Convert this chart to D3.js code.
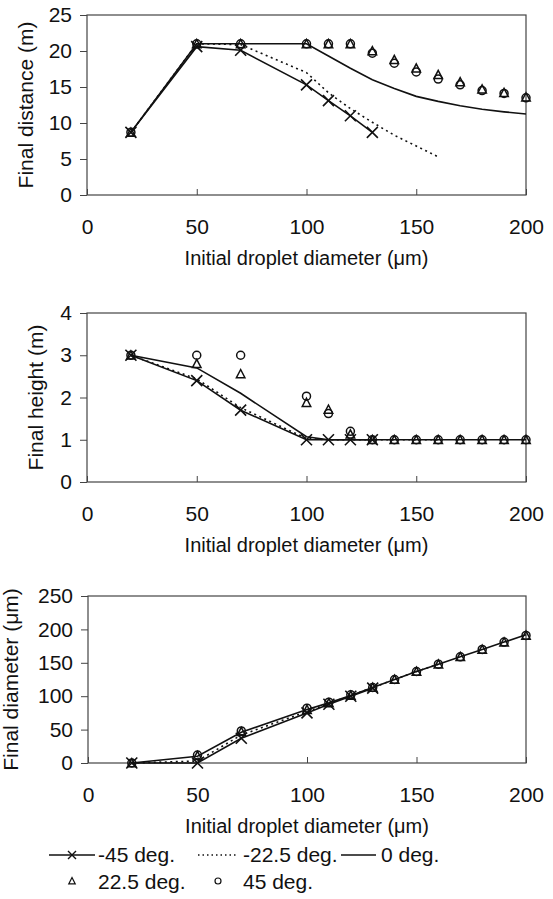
<!DOCTYPE html>
<html>
<head>
<meta charset="utf-8">
<script src="https://cdn.jsdelivr.net/npm/d3@7"></script>
<style>
  body { margin: 0; background: #fff; }
  text { font-family: "Liberation Sans", Arial, Helvetica, sans-serif; fill: #111; }
</style>
</head>
<body>
<div id="chart"></div>
<script>
// x values (initial droplet diameter, um)
const diameters = [20, 50, 70, 100, 110, 120, 130, 140, 150, 160, 170, 180, 190, 200];
const xTicks = [0, 50, 100, 150, 200];

// Final distance (m)
const distM45 = [8.7, 20.6, 20.1, 15.3, 13.1, 11.0, 8.7];
const distM22 = [8.7, 21.0, 20.9, 17.0, 14.2, 12.0, 10.1, 8.3, 6.8, 5.3];
const dist0 = [8.7, 21.0, 21.0, 21.0, 19.3, 17.6, 16.0, 14.8, 13.7, 13.0, 12.4, 11.9, 11.55, 11.25];
const dist225 = [8.7, 21.0, 21.0, 21.0, 21.0, 21.0, 20.0, 18.8, 17.6, 16.7, 15.7, 14.7, 14.2, 13.6];
const dist45 = [8.7, 21.0, 21.0, 21.0, 21.0, 21.0, 19.7, 18.3, 17.1, 16.1, 15.3, 14.5, 14.1, 13.5];
const distTicks = [0, 5, 10, 15, 20, 25];

// Final height (m)
const heightM45 = [3.0, 2.4, 1.7, 1.0, 1.0, 1.0, 1.0];
const heightM22 = [3.0, 2.44, 1.76, 1.03, 1.0, 1.0, 1.0, 1.0, 1.0, 1.0];
const height0 = [3.0, 2.7, 2.1, 1.07, 1.0, 1.0, 1.0, 1.0, 1.0, 1.0, 1.0, 1.0, 1.0, 1.0];
const height225 = [3.0, 2.8, 2.56, 1.88, 1.72, 1.13, 1.0, 1.0, 1.0, 1.0, 1.0, 1.0, 1.0, 1.0];
const height45 = [3.0, 3.0, 3.0, 2.03, 1.62, 1.2, 1.0, 1.0, 1.0, 1.0, 1.0, 1.0, 1.0, 1.0];
const heightTicks = [0, 1, 2, 3, 4];

// Final diameter (um)
const diamM45 = [0, 0, 37, 75, 88, 100, 112];
const diamM22 = [0, 3, 42, 77, 89, 101, 113, 125, 137, 148];
const diam0 = [0, 10, 46, 80, 90, 101, 113, 125, 137, 148, 159, 170, 181, 192];
const diam225 = [0, 11, 47, 80, 90, 101, 113, 125, 137, 148, 159, 170, 181, 191];
const diam45 = [0, 12, 48, 82, 91, 102, 113, 125, 137, 148, 159, 170, 181, 191];
const diamTicks = [0, 50, 100, 150, 200, 250];

const xTitle = "Initial droplet diameter (\u03BCm)";
const legendLabels = ["-45 deg.", "-22.5 deg.", "0 deg.", "22.5 deg.", "45 deg."];

const width = 553, height = 899;

const svg = d3.select("#chart")
    .append("svg")
    .attr("width", width)
    .attr("height", height);

// Pair x values with y values
function pts(ys) {
    return ys.map((v, i) => ({ x: diameters[i], y: v }));
}

// Path for an "x" marker
function crossPath(cx, cy, r) {
    return `M${cx - r},${cy - r}L${cx + r},${cy + r}M${cx - r},${cy + r}L${cx + r},${cy - r}`;
}
function trianglePath(cx, cy, s) {
    const h = s * 0.9;
    return `M${cx},${cy - h / 2 - 0.5}L${cx + s / 2},${cy + h / 2}L${cx - s / 2},${cy + h / 2}Z`;
}

const panels = [
    { top: 15, bottom: 195, left: 87, right: 526, yMax: 25, yTicks: distTicks, label: "Final distance (m)", labelX: 33,
      m45: distM45, m22: distM22, z0: dist0, p225: dist225, p45: dist45 },
    { top: 313, bottom: 482, left: 87, right: 526, yMax: 4, yTicks: heightTicks, label: "Final height (m)", labelX: 43,
      m45: heightM45, m22: heightM22, z0: height0, p225: height225, p45: height45 },
    { top: 596, bottom: 763, left: 88, right: 526, yMax: 250, yTicks: diamTicks, label: "Final diameter (\u03BCm)", labelX: 18,
      m45: diamM45, m22: diamM22, z0: diam0, p225: diam225, p45: diam45 }
];

panels.forEach(function (p) {
    const x = d3.scaleLinear().domain([0, 200]).range([p.left, p.right]);
    const y = d3.scaleLinear().domain([0, p.yMax]).range([p.bottom, p.top]);
    const g = svg.append("g");

    // frame
    g.append("rect")
        .attr("x", p.left)
        .attr("y", p.top)
        .attr("width", p.right - p.left)
        .attr("height", p.bottom - p.top)
        .attr("fill", "none")
        .attr("stroke", "#444")
        .attr("stroke-width", 1.2);

    // y axis
    const yAxis = g.append("g")
        .attr("transform", `translate(${p.left},0)`)
        .call(d3.axisLeft(y).tickValues(p.yTicks).tickFormat(d3.format("d")).tickSize(7).tickPadding(8));
    yAxis.select(".domain").remove();
    yAxis.selectAll("line").attr("stroke", "#444");
    yAxis.selectAll("text")
        .attr("font-size", 21)
        .attr("fill", "#111")
        .attr("font-family", "Liberation Sans, Arial, sans-serif")
        .attr("x", -15);

    // x axis (ticks pointing in)
    const xAxis = g.append("g")
        .attr("transform", `translate(0,${p.bottom})`)
        .call(d3.axisBottom(x).tickValues(xTicks).tickFormat(d3.format("d")).tickSize(-6));
    xAxis.select(".domain").remove();
    xAxis.selectAll("line").attr("stroke", "#444");
    xAxis.selectAll("text")
        .attr("font-size", 21)
        .attr("fill", "#111")
        .attr("font-family", "Liberation Sans, Arial, sans-serif")
        .attr("y", 39)
        .attr("dy", null);

    // axis titles
    g.append("text")
        .attr("x", (p.left + p.right) / 2)
        .attr("y", p.bottom + 70)
        .attr("text-anchor", "middle")
        .attr("font-size", 20)
        .text(xTitle);

    g.append("text")
        .attr("transform", `translate(${p.labelX},${(p.top + p.bottom) / 2}) rotate(-90)`)
        .attr("text-anchor", "middle")
        .attr("font-size", 21)
        .text(p.label);

    const line = d3.line()
        .x(d => x(d.x))
        .y(d => y(d.y));

    // -22.5 deg (dotted)
    g.append("path")
        .datum(pts(p.m22))
        .attr("fill", "none")
        .attr("stroke", "#111")
        .attr("stroke-width", 1.6)
        .attr("stroke-dasharray", "2,3.5")
        .attr("d", line);

    // 0 deg (solid)
    g.append("path")
        .datum(pts(p.z0))
        .attr("fill", "none")
        .attr("stroke", "#111")
        .attr("stroke-width", 1.6)
        .attr("d", line);

    // -45 deg (solid with x markers)
    g.append("path")
        .datum(pts(p.m45))
        .attr("fill", "none")
        .attr("stroke", "#111")
        .attr("stroke-width", 1.6)
        .attr("d", line);

    g.selectAll(".xmark")
        .data(pts(p.m45))
        .enter()
        .append("path")
        .attr("d", d => crossPath(x(d.x), y(d.y), 5.5))
        .attr("stroke", "#111")
        .attr("stroke-width", 1.6)
        .attr("fill", "none");

    // 22.5 deg (triangles)
    g.selectAll(".tri")
        .data(pts(p.p225))
        .enter()
        .append("path")
        .attr("d", d => trianglePath(x(d.x), y(d.y), 8.5))
        .attr("fill", "none")
        .attr("stroke", "#111")
        .attr("stroke-width", 1.5);

    // 45 deg (circles)
    g.selectAll(".circ")
        .data(pts(p.p45))
        .enter()
        .append("circle")
        .attr("cx", d => x(d.x))
        .attr("cy", d => y(d.y))
        .attr("r", 4)
        .attr("fill", "none")
        .attr("stroke", "#111")
        .attr("stroke-width", 1.5);
});

// Legend
const legend = svg.append("g");
const row1 = 855, row2 = 882;

// -45 deg
legend.append("line")
    .attr("x1", 49).attr("x2", 95).attr("y1", row1).attr("y2", row1)
    .attr("stroke", "#111").attr("stroke-width", 1.6);
legend.append("path")
    .attr("d", crossPath(72, row1, 4))
    .attr("stroke", "#111").attr("stroke-width", 1.4);
legend.append("text").attr("x", 98).attr("y", row1 + 7).attr("font-size", 21).text(legendLabels[0]);

// -22.5 deg
legend.append("line")
    .attr("x1", 198).attr("x2", 238).attr("y1", row1).attr("y2", row1)
    .attr("stroke", "#111").attr("stroke-width", 1.3).attr("stroke-dasharray", "1.5,3");
legend.append("text").attr("x", 243).attr("y", row1 + 7).attr("font-size", 21).text(legendLabels[1]);

// 0 deg
legend.append("line")
    .attr("x1", 341).attr("x2", 376).attr("y1", row1).attr("y2", row1)
    .attr("stroke", "#111").attr("stroke-width", 1.6);
legend.append("text").attr("x", 381).attr("y", row1 + 7).attr("font-size", 21).text(legendLabels[2]);

// 22.5 deg
legend.append("path")
    .attr("d", trianglePath(72, row2 - 1, 6.5))
    .attr("fill", "none").attr("stroke", "#111").attr("stroke-width", 1.2);
legend.append("text").attr("x", 98).attr("y", row2 + 7).attr("font-size", 21).text(legendLabels[3]);

// 45 deg
legend.append("circle")
    .attr("cx", 218).attr("cy", row2 - 1).attr("r", 3)
    .attr("fill", "none").attr("stroke", "#111").attr("stroke-width", 1.2);
legend.append("text").attr("x", 243).attr("y", row2 + 7).attr("font-size", 21).text(legendLabels[4]);
</script>
</body>
</html>
